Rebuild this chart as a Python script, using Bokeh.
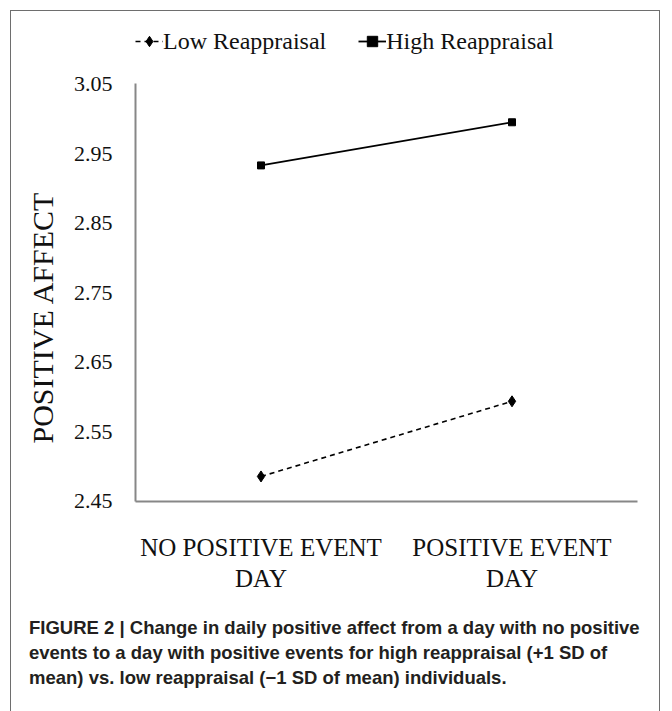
from bokeh.plotting import figure
from bokeh.models import (FactorRange, Range1d, FixedTicker, Legend, LegendItem,
                          Title, NumeralTickFormatter)
from bokeh.embed import file_html
from bokeh.resources import INLINE

# ---- data ----
categories = ["NO POSITIVE EVENT\nDAY", "POSITIVE EVENT\nDAY"]
low_reappraisal = [2.486, 2.594]
high_reappraisal = [2.933, 2.995]
series_names = ["Low Reappraisal", "High Reappraisal"]
y_ticks = [2.45, 2.55, 2.65, 2.75, 2.85, 2.95, 3.05]
y_axis_title = "POSITIVE AFFECT"
caption_lines = [
    "FIGURE 2 | Change in daily positive affect from a day with no positive",
    "events to a day with positive events for high reappraisal (+1 SD of",
    "mean) vs. low reappraisal (\u22121 SD of mean) individuals.",
]

SERIF = "Liberation Serif"
W, H = 650, 703
ML, MR, MT, MB = 122, 24, 10, 213
Y_TOP_PX = 72.5          # canvas y of the top tick
frame_bottom = H - MB
span = y_ticks[-1] - y_ticks[0]
y_end = y_ticks[-1] + span * (Y_TOP_PX - MT) / (frame_bottom - Y_TOP_PX)

p = figure(width=W, height=H,
           x_range=FactorRange(factors=categories, range_padding=0),
           y_range=Range1d(y_ticks[0] - 1e-6, y_end),
           output_backend="svg", toolbar_location=None,
           min_border_left=ML, min_border_right=MR,
           min_border_top=MT, min_border_bottom=MB)
p.styles = {"margin-left": "10px", "margin-top": "10px",
            "border-left": "1.5px solid #6e6e6e",
            "border-top": "1.5px solid #6e6e6e",
            "border-right": "1.5px solid #6e6e6e"}
p.xgrid.visible = False
p.ygrid.visible = False
p.outline_line_color = None
p.background_fill_color = "white"
p.border_fill_color = "white"

# y axis
ya = p.yaxis[0]
ya.ticker = FixedTicker(ticks=y_ticks)
ya.bounds = (y_ticks[0], y_ticks[-1])
ya.formatter = NumeralTickFormatter(format="0.00")
ya.major_tick_line_color = None
ya.minor_tick_line_color = None
ya.major_tick_out = 0
ya.major_tick_in = 0
ya.axis_line_color = "#878787"
ya.axis_line_width = 2
ya.major_label_text_font = SERIF
ya.major_label_text_font_size = "22px"
ya.major_label_text_color = "#111111"
ya.major_label_standoff = 23

y_title = Title(text=y_axis_title, align="left", offset=58, standoff=24,
                text_font=SERIF, text_font_size="30px",
                text_font_style="normal", text_color="#111111")
p.add_layout(y_title, "left")

# x axis
xa = p.xaxis[0]
xa.major_tick_line_color = None
xa.minor_tick_line_color = None
xa.major_tick_out = 0
xa.major_tick_in = 0
xa.axis_line_color = "#878787"
xa.axis_line_width = 2
xa.major_label_text_font = SERIF
xa.major_label_text_font_size = "25px"
xa.major_label_text_line_height = 1.15
xa.major_label_text_color = "#111111"
xa.major_label_standoff = 32

# series
low_line = p.line(categories, low_reappraisal, line_color="black",
                  line_width=1.6, line_dash="5 4")
low_pts = p.scatter(categories, low_reappraisal, marker="diamond", size=11,
                    color="black")
high_line = p.line(categories, high_reappraisal, line_color="black",
                   line_width=1.8)
high_pts = p.scatter(categories, high_reappraisal, marker="square", size=7,
                     color="black")

legend = Legend(items=[LegendItem(label=series_names[0], renderers=[low_line, low_pts]),
                       LegendItem(label=series_names[1], renderers=[high_line, high_pts])],
                orientation="horizontal", location=(0, frame_bottom - 43.5),
                label_text_font=SERIF, label_text_font_size="24px",
                label_text_color="#111111",
                glyph_width=28, glyph_height=26, label_height=26,
                label_standoff=0, spacing=32, padding=0, margin=0,
                border_line_color=None, background_fill_alpha=0)
p.add_layout(legend)

# caption
cap = Title(text="\n".join(caption_lines), align="left", offset=-106.5,
            standoff=40, text_font="Liberation Sans",
            text_font_style="bold", text_font_size="18.5px",
            text_line_height=1.21, text_color="#231f20")
p.add_layout(cap, "below")

open("out.html", "w").write(file_html(p, INLINE))
